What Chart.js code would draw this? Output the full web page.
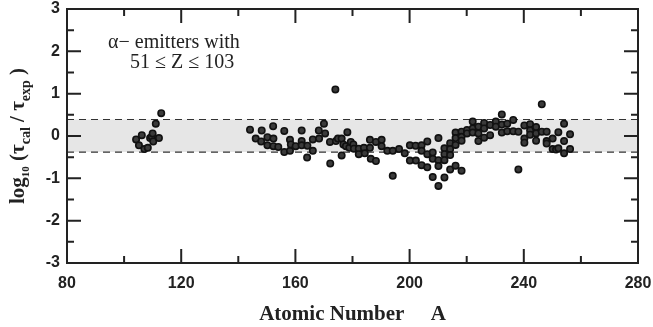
<!DOCTYPE html>
<html lang="en">
<head>
  <meta charset="UTF-8" />
  <title>Alpha decay half-lives: calculated vs experimental</title>
  <script src="https://cdn.jsdelivr.net/npm/chart.js"></script>
  <style>
    html, body {
      margin: 0;
      padding: 0;
      background: #fff;
    }
    .chart-container {
      width: 653px;
      height: 327px;
    }
  </style>
</head>
<body>
  <div class="chart-container">
    <canvas id="scatterChart"></canvas>
  </div>

  <script>
    // mass number A of each alpha emitter
    const massNumber = [
      104.2, 105.2, 106.2, 107.1, 108.3, 109.1, 109.7, 110.0, 110.2, 111.1, 112.2, 113.0,
      144.1, 146.1, 148.2, 148.0, 150.2, 150.2, 152.2, 152.3, 152.3, 154.0, 156.1, 156.1,
      158.1, 158.1, 158.4, 160.1, 162.2, 162.2, 162.2, 164.2, 164.1, 166.1, 166.1, 168.2,
      168.3, 170.0, 170.4, 172.1, 172.2, 174.0,
      174.2, 174.9, 176.2, 176.2, 176.8, 177.7, 178.2, 178.9, 179.4, 180.3, 180.5, 182.2,
      182.2, 184.0, 184.3, 186.1, 186.1, 186.4, 188.2, 188.2, 190.2, 190.2, 192.2, 194.1,
      194.1, 196.3, 198.3, 200.1, 200.1, 202.1, 202.2, 204.2, 204.2, 204.2, 206.2, 206.2,
      206.2, 208.1, 208.1, 208.1, 210.1, 210.1, 210.1, 210.1,
      212.2, 212.2, 212.2, 212.2, 214.2, 214.2, 214.2, 214.2, 216.1, 216.1, 216.1, 216.1,
      218.2, 218.2, 218.2, 218.2, 220.1, 220.1, 222.1, 222.1, 222.1, 224.1, 224.1, 224.1,
      226.1, 226.1, 226.1, 228.2, 228.2, 230.2, 230.2, 232.3, 232.3, 232.3, 234.2, 234.2,
      236.3, 236.3, 238.1, 238.1, 240.2, 240.2, 240.2, 242.2, 242.2, 242.2, 244.3, 244.3,
      244.3, 246.3, 246.3,
      248.0, 248.0, 248.0, 250.1, 250.1, 251.3, 252.1, 252.1, 254.1, 254.1, 254.1, 256.2,
      256.2
    ];

    // log10(tau_cal / tau_exp)
    const logRatio = [
      -0.08, -0.22, 0.02, -0.31, -0.28, -0.05, -0.02, 0.06, -0.13, 0.29, -0.05, 0.54,
      0.15, -0.06, 0.13, -0.13, -0.03, -0.22, 0.23, -0.06, -0.24, -0.26, 0.12, -0.38,
      -0.35, -0.09, -0.20, -0.24, 0.13, -0.12, -0.22, -0.23, -0.51, -0.35, -0.08, 0.13,
      -0.06, 0.29, 0.06, -0.14, -0.65, 1.10,
      -0.12, -0.06, -0.06, -0.46, -0.20, -0.24, 0.09, -0.28, -0.14, -0.20, -0.30, -0.30,
      -0.43, -0.28, -0.41, -0.09, -0.28, -0.54, -0.14, -0.59, -0.09, -0.24, -0.35, -0.35,
      -0.94, -0.31, -0.41, -0.22, -0.58, -0.23, -0.58, -0.22, -0.35, -0.69, -0.13, -0.43,
      -0.74, -0.39, -0.54, -0.97, -0.05, -0.57, -0.71, -1.18,
      -0.29, -0.43, -0.57, -0.98, -0.17, -0.31, -0.45, -0.79, 0.08, -0.05, -0.21, -0.70,
      0.10, -0.02, -0.11, -0.82, 0.14, 0.06, 0.34, 0.18, 0.08, 0.22, 0.06, -0.12,
      0.31, 0.18, -0.04, 0.26, 0.02, 0.34, 0.22, 0.51, 0.27, 0.08, 0.29, 0.11,
      0.38, 0.11, 0.10, -0.79, 0.25, -0.06, -0.16, 0.28, 0.13, 0.03, 0.21, 0.06,
      -0.11, 0.75, 0.10,
      0.10, -0.12, -0.18, -0.06, -0.31, -0.32, 0.09, -0.29, 0.29, -0.12, -0.41, 0.04,
      -0.31
    ];

    const xTickLabels = ['80', '120', '160', '200', '240', '280'];
    const yTickLabels = ['-3', '-2', '-1', '0', '1', '2', '3'];
    const bandLimits = [-0.38, 0.39];
    const xRange = [80, 280];
    const yRange = [-3, 3];

    const points = massNumber.map((a, i) => ({ x: a, y: logRatio[i] }));
    const lineAt = v => xRange.map(x => ({ x: x, y: v }));

    // inward ticks on all four sides + frame
    const frameTicks = {
      id: 'frameTicks',
      afterDatasetsDraw(chart) {
        const { ctx, chartArea: a, scales: { x, y } } = chart;
        ctx.save();
        ctx.strokeStyle = '#222';
        ctx.lineWidth = 2;
        x.ticks.forEach(t => {
          const px = x.getPixelForValue(t.value);
          const len = xTickLabels.includes(String(t.value)) ? 14 : 7;
          ctx.beginPath();
          ctx.moveTo(px, a.bottom); ctx.lineTo(px, a.bottom - len);
          ctx.moveTo(px, a.top); ctx.lineTo(px, a.top + len);
          ctx.stroke();
        });
        y.ticks.forEach(t => {
          const py = y.getPixelForValue(t.value);
          const len = yTickLabels.includes(String(t.value)) ? 14 : 7;
          ctx.beginPath();
          ctx.moveTo(a.left, py); ctx.lineTo(a.left + len, py);
          ctx.moveTo(a.right, py); ctx.lineTo(a.right - len, py);
          ctx.stroke();
        });
        ctx.strokeRect(a.left, a.top, a.right - a.left, a.bottom - a.top);

        // note in the upper left
        ctx.fillStyle = '#222';
        ctx.font = '20px "Liberation Serif", serif';
        ctx.textBaseline = 'middle';
        ctx.fillText('\u03b1\u2212 emitters with', x.getPixelForValue(94.4), y.getPixelForValue(2.2));
        ctx.fillText('51 \u2264 Z \u2264 103', x.getPixelForValue(102.1), y.getPixelForValue(1.73));
        ctx.restore();
      }
    };

    // rotated y title with subscripts
    const yTitle = {
      id: 'yTitle',
      afterDraw(chart) {
        const { ctx, chartArea: a } = chart;
        const big = 'bold 21px "Liberation Serif", serif';
        const sub = 'bold 14px "Liberation Serif", serif';
        const tiny = 'bold 11px "Liberation Serif", serif';
        const parts = [
          ['log', big, 0], ['10', tiny, 5], [' (', big, 0],
          ['\u03c4', big, 0], ['cal', sub, 6], [' / ', big, 0],
          ['\u03c4', big, 0], ['exp', sub, 6], [' )', big, 0]
        ];
        ctx.save();
        let total = 0;
        parts.forEach(p => { ctx.font = p[1]; total += ctx.measureText(p[0]).width; });
        ctx.translate(24, (a.top + a.bottom) / 2);
        ctx.rotate(-Math.PI / 2);
        ctx.fillStyle = '#222';
        ctx.textBaseline = 'alphabetic';
        let cx = -total / 2;
        parts.forEach(p => {
          ctx.font = p[1];
          ctx.fillText(p[0], cx, p[2]);
          cx += ctx.measureText(p[0]).width;
        });
        ctx.restore();
      }
    };

    const tickFont = { family: '"Liberation Sans", Arial, sans-serif', size: 16, weight: 'bold' };

    const ctx = document.getElementById('scatterChart').getContext('2d');
    new Chart(ctx, {
      type: 'scatter',
      data: {
        datasets: [
          {
            label: 'alpha emitters',
            data: points,
            pointRadius: 3.2,
            pointBackgroundColor: '#3a3a3a',
            pointBorderColor: '#111',
            pointBorderWidth: 1.6
          },
          {
            label: 'upper',
            type: 'line',
            data: lineAt(bandLimits[1]),
            borderColor: '#333',
            borderWidth: 1.2,
            borderDash: [7, 5],
            pointRadius: 0,
            fill: false
          },
          {
            label: 'lower',
            type: 'line',
            data: lineAt(bandLimits[0]),
            borderColor: '#333',
            borderWidth: 1.2,
            borderDash: [7, 5],
            pointRadius: 0,
            fill: '-1',
            backgroundColor: '#e6e6e6'
          },
          {
            label: 'zero',
            type: 'line',
            data: lineAt(0),
            borderColor: '#222',
            borderWidth: 2,
            pointRadius: 0,
            fill: false
          }
        ]
      },
      options: {
        responsive: true,
        maintainAspectRatio: false,
        animation: false,
        layout: { padding: { top: 9, right: 15, left: 0, bottom: 0 } },
        plugins: {
          legend: { display: false },
          tooltip: { enabled: false }
        },
        scales: {
          x: {
            type: 'linear',
            min: xRange[0],
            max: xRange[1],
            afterFit: s => { s.height = 64; s.paddingLeft = 0; s.paddingRight = 0; },
            grid: { display: false, drawTicks: false },
            border: { display: false },
            ticks: {
              stepSize: 20,
              padding: 11,
              color: '#222',
              font: tickFont,
              maxRotation: 0,
              autoSkip: false,
              callback: v => xTickLabels.includes(String(v)) ? String(v) : ''
            },
            title: {
              display: true,
              text: 'Atomic Number     A',
              color: '#222',
              font: { family: '"Liberation Serif", serif', size: 21, weight: 'bold' },
              padding: { top: 6, bottom: 0 }
            }
          },
          y: {
            min: yRange[0],
            max: yRange[1],
            afterFit: s => { s.width = 67; s.paddingTop = 0; s.paddingBottom = 0; },
            grid: { display: false, drawTicks: false },
            border: { display: false },
            ticks: {
              stepSize: 0.5,
              padding: 7,
              color: '#222',
              font: tickFont,
              autoSkip: false,
              callback: v => yTickLabels.includes(String(v)) ? String(v) : ''
            }
          }
        }
      },
      plugins: [frameTicks, yTitle]
    });
  </script>
</body>
</html>
